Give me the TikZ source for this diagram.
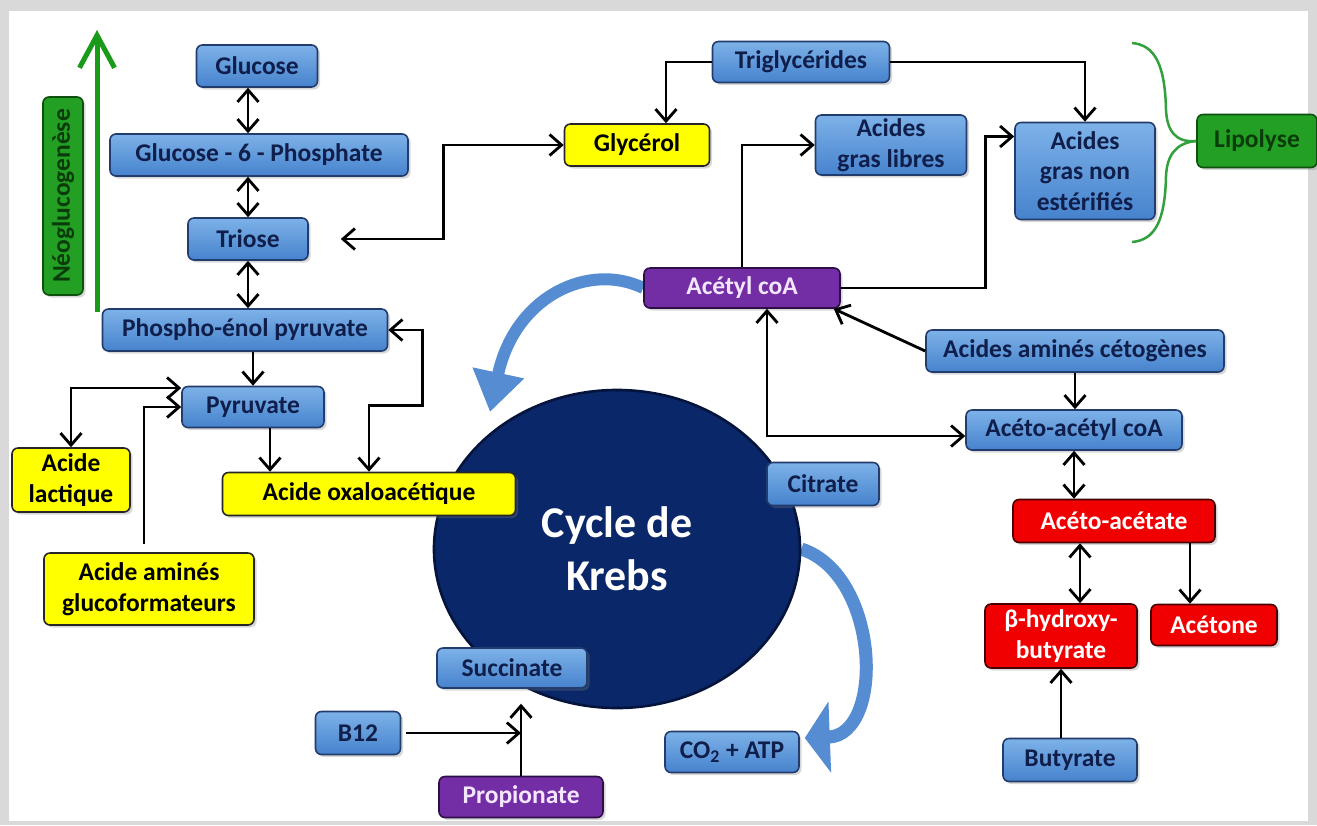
\documentclass[tikz,border=0pt]{standalone}
\usepackage{fontspec}
\setmainfont{Carlito}
\usetikzlibrary{shapes.geometric, arrows.meta, positioning, calc, shadows, backgrounds}

\definecolor{bleuHaut}{RGB}{125,178,232}
\definecolor{bleuBas}{RGB}{70,130,205}
\definecolor{bordBleu}{RGB}{35,60,110}
\definecolor{texteBleu}{RGB}{15,30,75}
\definecolor{fondJaune}{RGB}{255,255,0}
\definecolor{fondViolet}{RGB}{115,45,165}
\definecolor{bordViolet}{RGB}{45,15,70}
\definecolor{texteViolet}{RGB}{245,230,255}
\definecolor{fondRouge}{RGB}{240,0,0}
\definecolor{bordRouge}{RGB}{70,0,0}
\definecolor{fondVert}{RGB}{35,160,35}
\definecolor{bordVert}{RGB}{15,80,15}
\definecolor{texteVert}{RGB}{10,60,10}
\definecolor{fondKrebs}{RGB}{10,40,105}
\definecolor{bordKrebs}{RGB}{5,20,60}
\definecolor{flecheBleue}{RGB}{85,140,210}
\definecolor{vertFleche}{RGB}{25,155,25}
\definecolor{vertAccolade}{RGB}{50,160,60}

\begin{document}
\begin{tikzpicture}[x=0.2mm, y=-0.2mm]
    \tikzstyle{boite} = [rectangle, rounded corners=1.2mm, line width=0.9pt, align=center, inner sep=1pt, font=\bfseries\fontsize{14.5}{17.5}\selectfont, drop shadow={shadow xshift=0.5mm, shadow yshift=-0.5mm, opacity=0.3}]
    \tikzstyle{boitebleue} = [boite, draw=bordBleu, top color=bleuHaut, bottom color=bleuBas, text=texteBleu]
    \tikzstyle{boitejaune} = [boite, draw=black!85, fill=fondJaune, text=black]
    \tikzstyle{boiteviolette} = [boite, draw=bordViolet, fill=fondViolet, text=texteViolet]
    \tikzstyle{boiterouge} = [boite, draw=bordRouge, fill=fondRouge, text=white]
    \tikzstyle{boiteverte} = [boite, draw=bordVert, fill=fondVert, text=texteVert]
    \tikzstyle{arrow} = [line width=1.6pt, ->, >={Straight Barb[length=2.4mm, width=4.2mm]}]
    \tikzstyle{dblarrow} = [arrow, <->]
    \tikzstyle{bluearrow} = [line width=2.4mm, color=flecheBleue, -{Triangle[length=8mm, width=10mm]}]
    \tikzstyle{accolade} = [line width=0.5mm, color=vertAccolade]

    \useasboundingbox (0,0) rectangle (1317,825);
    \clip (0,0) rectangle (1317,825);

    % cycle de Krebs
    \node[ellipse, draw=bordKrebs, line width=1.5pt, fill=fondKrebs, text=white, align=center, minimum width=73.2mm, minimum height=63.6mm, font=\bfseries\fontsize{25}{30}\selectfont] (krebs) at (617,549) {Cycle de\\Krebs};

    % néoglucogenèse
    \node[boiteverte, rotate=90, minimum width=39.6mm, minimum height=8mm] (neo) at (63,196) {Néoglucogenèse};
    \coordinate (basVert) at (97,312);
    \coordinate (hautVert) at (97,30);
    \draw[line width=1mm, vertFleche, -{Straight Barb[length=6.5mm, width=7mm]}] (basVert) -- (hautVert);

    \node[boitebleue, minimum width=24.2mm, minimum height=8.4mm] (glucose) at (257,66) {Glucose};
    \node[boitebleue, minimum width=59.6mm, minimum height=8.4mm] (g6p) at (259,155) {Glucose - 6 - Phosphate};
    \node[boitebleue, minimum width=24mm, minimum height=8.4mm] (triose) at (248,239) {Triose};
    \node[boitebleue, minimum width=57mm, minimum height=8.4mm] (pep) at (245,330) {Phospho-énol pyruvate};
    \node[boitebleue, minimum width=28.4mm, minimum height=8.2mm] (pyruvate) at (253,407) {Pyruvate};
    \node[boitejaune, minimum width=23.6mm, minimum height=12.8mm] (lactique) at (71,480) {Acide\\lactique};
    \node[boitejaune, minimum width=42mm, minimum height=14.4mm] (amines) at (149,589) {Acide aminés\\glucoformateurs};
    \node[boitejaune, minimum width=58.6mm, minimum height=8.6mm] (oxalo) at (369,494) {Acide oxaloacétique};

    % lipides
    \node[boitejaune, minimum width=29mm, minimum height=8.4mm] (glycerol) at (637,145) {Glycérol};
    \node[boitebleue, minimum width=35.4mm, minimum height=8.2mm] (trig) at (801,62) {Triglycérides};
    \node[boitebleue, minimum width=30.2mm, minimum height=12mm] (agl) at (891,145) {Acides\\gras libres};
    \node[boitebleue, minimum width=28mm, minimum height=19.4mm] (agne) at (1085,171) {Acides\\gras non\\estérifiés};
    \node[boiteverte, minimum width=24mm, minimum height=10.6mm] (lipolyse) at (1257,141) {Lipolyse};

    % corps cétoniques
    \node[boiteviolette, minimum width=39.2mm, minimum height=8mm] (acetyl) at (742,288) {Acétyl coA};
    \node[boitebleue, minimum width=59.6mm, minimum height=8.4mm] (aac) at (1075,351) {Acides aminés cétogènes};
    \node[boitebleue, minimum width=43.2mm, minimum height=8mm] (acacoa) at (1074,430) {Acéto-acétyl coA};
    \node[boitebleue, minimum width=22.4mm, minimum height=8.6mm] (citrate) at (823,484) {Citrate};
    \node[boiterouge, minimum width=40.4mm, minimum height=8.6mm] (acac) at (1114,521) {Acéto-acétate};
    \node[boiterouge, minimum width=30.4mm, minimum height=12.8mm] (bhb) at (1061,636) {β-hydroxy-\\butyrate};
    \node[boiterouge, minimum width=25.2mm, minimum height=8.2mm] (acetone) at (1214,625) {Acétone};
    \node[boitebleue, minimum width=26.8mm, minimum height=8.6mm] (butyrate) at (1070,760) {Butyrate};

    \node[boitebleue, minimum width=30mm, minimum height=8mm] (succinate) at (512,668) {Succinate};
    \node[boitebleue, minimum width=17mm, minimum height=8.6mm] (b12) at (358,733) {B12};
    \node[boiteviolette, minimum width=32.8mm, minimum height=8.2mm] (propionate) at (521,797) {Propionate};
    \node[boitebleue, minimum width=26.8mm, minimum height=8.2mm] (co2) at (732,752) {CO\textsubscript{2} + ATP};

    % accolade lipolyse
    \draw[accolade] (lipolyse.west) .. controls (1175,143) and (1167,130) .. (1166,110) .. controls (1165,65) and (1155,45) .. (1132,43);
    \draw[accolade] (lipolyse.west) .. controls (1175,143) and (1167,156) .. (1166,176) .. controls (1165,221) and (1155,240) .. (1132,242);

    % voie de gauche
    \draw[dblarrow] (glucose.south -| triose) -- (g6p.north -| triose);
    \draw[dblarrow] (g6p.south -| triose) -- (triose.north);
    \draw[dblarrow] (triose.south) -- (pep.north -| triose);
    \draw[arrow] (pep.south -| pyruvate) -- (pyruvate.north);
    \draw[arrow] ([xshift=3.4mm]pyruvate.south) -- ([xshift=3.4mm]pyruvate.south |- oxalo.north);
    \draw[dblarrow] (oxalo.north) -- ++(0,-66) -| ([xshift=6.8mm]pep.east) -- (pep.east);
    \draw[dblarrow] (lactique.north) |- ([yshift=3.8mm]pyruvate.west);
    \draw[arrow] ([xshift=-1mm, yshift=1.6mm]amines.north) |- (pyruvate.west);
    \draw[dblarrow] (glycerol.west) -- ++(-120,0) |- ([xshift=6.4mm]triose.east);

    % voie des lipides
    \draw[arrow] (trig.west) -| ([xshift=5.8mm]glycerol.north);
    \draw[arrow] (trig.east) -| (agne.north);
    \draw[arrow] (acetyl.north) |- (agl.west);
    \draw[arrow] (acetyl.east) -- ++(145,0) |- ([yshift=6.9mm]agne.west);

    % corps cétoniques
    \draw[arrow] (aac.west) -- ([xshift=-1.4mm]acetyl.south east);
    \draw[arrow] (aac.south) -- (aac.south |- acacoa.north);
    \draw[dblarrow] ([xshift=5mm]acetyl.south) |- ([yshift=-1.2mm]acacoa.west);
    \draw[dblarrow] (acacoa.south) -- (acacoa.south |- acac.north);
    \draw[dblarrow] ([xshift=3.8mm]bhb.north) -- ([xshift=3.8mm]bhb.north |- acac.south);
    \draw[arrow] ([xshift=-4.8mm]acetone.north |- acac.south) -- ([xshift=-4.8mm]acetone.north);
    \draw[arrow] (butyrate.north -| bhb) -- (bhb.south);

    % propionate
    \draw[arrow] (propionate.north) -- ++(0,-72) coordinate (jonction);
    \draw[arrow] ([xshift=1mm]b12.east) -- (b12.east -| jonction);

    \coordinate (pointe) at (490,412);
    \begin{pgfonlayer}{background}
        \fill[gray!30] (0,0) rectangle (1317,825);
        \fill[white] (9,11) rectangle (1308,821);
        \draw[bluearrow] (acetyl.west) .. controls (590,262) and (515,295) .. (pointe);
        \draw[line width=2.6mm, color=flecheBleue, -{Triangle[length=5mm, width=14mm]}] (krebs.east) .. controls (880,575) and (885,735) .. ([xshift=1mm, yshift=2.8mm]co2.east);
    \end{pgfonlayer}
\end{tikzpicture}
\end{document}
